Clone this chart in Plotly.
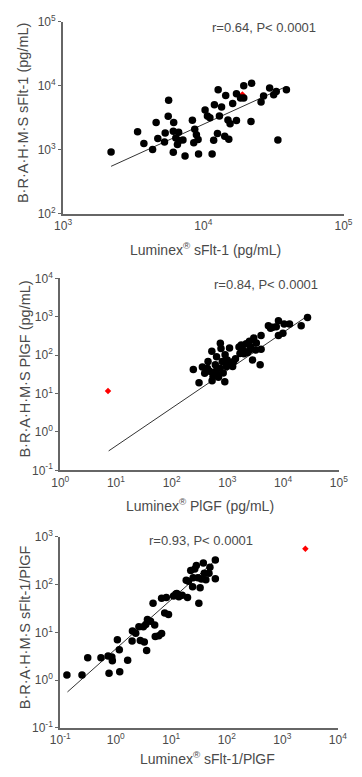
import plotly.graph_objects as go

# ---------------- Panel 1: sFlt-1 ----------------
p1_x = [2200, 3400, 3770, 4350, 4610, 4740, 5350, 5290, 5660, 5620, 6150, 6110, 6370, 6540,
        6110, 6670, 6730, 7160, 7410, 8360, 8690, 8930, 8550, 9180, 9250, 10300, 10700, 11150,
        11560, 12000, 11860, 12760, 13030, 13500, 12620, 14450, 14220, 15200, 14990, 15530,
        16200, 17240, 17240, 18430, 19430, 19430, 22110, 21880, 25820, 26900, 29720, 31770,
        33130, 34040, 39150]
p1_y = [920, 1910, 1250, 1010, 2650, 1490, 1820, 1320, 5920, 3320, 2650, 1950, 1530, 1210,
        910, 1870, 1390, 1420, 800, 2880, 2080, 1720, 1280, 1440, 860, 4160, 3370, 3170,
        860, 5060, 1410, 8650, 3370, 4670, 1790, 7050, 1620, 1460, 2920, 2540,
        5250, 2850, 7470, 6410, 6410, 10000, 10970, 2750, 5570, 6890, 9190, 7200,
        8130, 1420, 8650]
p1_red_x = [19000]
p1_red_y = [7300]
p1_fit_x = [2200, 39000]
p1_fit_y = [550, 9700]
p1_stat = "r=0.64, P< 0.0001"

# ---------------- Panel 2: PlGF ----------------
p2_x = [245, 310, 356, 438, 526, 481, 532, 553, 608, 623, 673, 740, 748, 769, 809, 842, 900,
        958, 996, 1094, 1137, 1295, 1619, 1683, 1915, 2179, 2303, 2490, 2620, 2832, 2980,
        3226, 3875, 4030, 4030, 5450, 6530, 7545, 8260, 8260, 10440, 13050, 21130, 27480,
        392, 640, 910, 1400, 1771, 3313, 1991, 692, 1245, 450, 2520, 5970, 9930]
p2_y = [42.5, 19.0, 49.1, 45.8, 127, 37.8, 21.6, 28.1, 55.8, 37.8, 31.0, 45.8, 204, 148, 67.9,
        34.1, 20.4, 50.6, 75.0, 154, 61.4, 67.9, 164, 110, 135, 199, 117, 229, 164, 75.0, 278,
        135, 55.8, 326, 143, 586, 530, 552, 785, 326, 644, 644, 586, 955,
        33.6, 91, 102, 81, 184, 207, 109, 26.5, 50.6, 67.9, 137, 500, 372]
p2_red_x = [7.2]
p2_red_y = [11.6]
p2_fit_x = [7.4, 27500]
p2_fit_y = [0.32, 1050]
p2_stat = "r=0.84, P< 0.0001"

# ---------------- Panel 3: sFlt-1/PlGF ----------------
p3_x = [0.132, 0.247, 0.313, 0.542, 0.757, 0.728, 0.851, 0.868, 1.18, 1.16, 1.07, 1.64, 1.97,
        2.00, 2.29, 2.77, 3.27, 3.60, 3.14, 3.72, 4.23, 5.03, 5.15, 6.70, 4.70, 6.70, 8.15,
        7.62, 8.92, 11.0, 12.6, 13.7, 19.6, 20.4, 22.4, 24.8, 24.2, 28.3, 30.2, 33.1, 31.4,
        37.8, 39.3, 42.0, 49.7, 62.2, 62.2, 18.6, 26.5, 47.8, 2.61, 3.47, 12.1, 34.9, 5.96, 15.7]
p3_y = [1.28, 1.28, 2.96, 2.93, 1.39, 3.22, 3.04, 2.54, 1.50, 4.34, 7.02, 2.60, 6.59,
        10.7, 9.64, 6.79, 6.29, 4.17, 13.2, 18.7, 17.2, 14.3, 8.20, 9.43, 40.8, 51.8, 53.5,
        25.5, 23.6, 57.9, 65.5, 56.1, 53.5, 118, 198, 140, 90, 251, 140, 85.7, 40.8,
        283, 174, 127, 231, 330, 133, 123, 213, 174, 13.2, 14.7, 63.7, 131, 8.47, 60.3]
p3_red_x = [2600]
p3_red_y = [568]
p3_fit_x = [0.135, 62]
p3_fit_y = [0.566, 322]
p3_stat = "r=0.93, P< 0.0001"

W, H = 362, 777
FONT = "Liberation Sans, Arial, sans-serif"
TXT = "#4a4a4a"
AXC = "#666666"


def px_x(p):
    return p / W


def px_y(p):
    return 1 - p / H


def sup_labels(lo, hi):
    vals = [10.0 ** k for k in range(lo, hi + 1)]
    txt = ["10<sup>%d</sup>" % k for k in range(lo, hi + 1)]
    return vals, txt


panels = [
    dict(x=p1_x, y=p1_y, rx=p1_red_x, ry=p1_red_y, fx=p1_fit_x, fy=p1_fit_y,
         xr=(3, 5), yr=(2, 5), xd=(56, 352), yd=(13, 209)),
    dict(x=p2_x, y=p2_y, rx=p2_red_x, ry=p2_red_y, fx=p2_fit_x, fy=p2_fit_y,
         xr=(0, 5), yr=(-1, 4), xd=(53, 347), yd=(275, 471)),
    dict(x=p3_x, y=p3_y, rx=p3_red_x, ry=p3_red_y, fx=p3_fit_x, fy=p3_fit_y,
         xr=(-1, 4), yr=(-1, 3), xd=(53, 346), yd=(539, 734)),
]

fig = go.Figure()
layout = {}
for i, p in enumerate(panels, start=1):
    xa = "x" if i == 1 else "x%d" % i
    ya = "y" if i == 1 else "y%d" % i
    fig.add_trace(go.Scatter(x=p["fx"], y=p["fy"], mode="lines", xaxis=xa, yaxis=ya,
                             line=dict(color="#333333", width=1), hoverinfo="skip"))
    fig.add_trace(go.Scatter(x=p["rx"], y=p["ry"], mode="markers", xaxis=xa, yaxis=ya,
                             marker=dict(color="red", size=5, symbol="diamond")))
    fig.add_trace(go.Scatter(x=p["x"], y=p["y"], mode="markers", xaxis=xa, yaxis=ya,
                             marker=dict(color="black", size=7.5, symbol="circle")))
    xv, xt = sup_labels(*p["xr"])
    yv, yt = sup_labels(*p["yr"])
    common = dict(type="log", showgrid=False, zeroline=False, showline=True,
                  linecolor=AXC, linewidth=2, tickfont=dict(family=FONT, size=12, color=TXT),
                  tickcolor=AXC, tickwidth=1, ticklabeloverflow="allow")
    layout["xaxis" if i == 1 else "xaxis%d" % i] = dict(
        common, range=list(p["xr"]), tickvals=xv, ticktext=xt, ticks="",
        domain=[px_x(p["xd"][0]), px_x(p["xd"][1])], anchor=ya)
    layout["yaxis" if i == 1 else "yaxis%d" % i] = dict(
        common, range=list(p["yr"]), tickvals=yv, ticktext=yt, ticks="outside", ticklen=3,
        domain=[px_y(p["yd"][1]), px_y(p["yd"][0])], anchor=xa)

ann = []
def add_text(text, x, y, size=12, angle=0):
    ann.append(dict(text=text, x=px_x(x), y=px_y(y), xref="paper", yref="paper",
                    showarrow=False, xanchor="center", yanchor="middle", textangle=angle,
                    font=dict(family=FONT, size=size, color=TXT)))

add_text(p1_stat, 268, 19, 13)
add_text(p2_stat, 270, 281, 13)
add_text(p3_stat, 202, 543, 13)
add_text("Luminex<sup>®</sup> sFlt-1 (pg/mL)", 206, 245, 14)
add_text("Luminex<sup>®</sup> PlGF (pg/mL)", 200, 506, 14)
add_text("Luminex<sup>®</sup> sFlt-1/PlGF", 208, 765, 14)
add_text("B·R·A·H·M·S sFlt-1 (pg/mL)", 14, 106, 14.5, -90)
add_text("B·R·A·H·M·S PlGF (pg/mL)", 16, 368, 14.5, -90)
add_text("B·R·A·H·M·S sFlt-1/PlGF", 16, 631, 14.5, -90)

fig.update_layout(**layout)
fig.update_layout(width=W, height=H, margin=dict(l=0, r=0, t=0, b=0),
                  paper_bgcolor="white", plot_bgcolor="white", showlegend=False,
                  annotations=ann, font=dict(family=FONT, color=TXT))
fig.write_html("out.html", config={"displayModeBar": False},
               post_script="document.body.style.margin='0';"
                           "document.documentElement.style.overflow='hidden';"
                           "document.body.style.overflow='hidden';")
